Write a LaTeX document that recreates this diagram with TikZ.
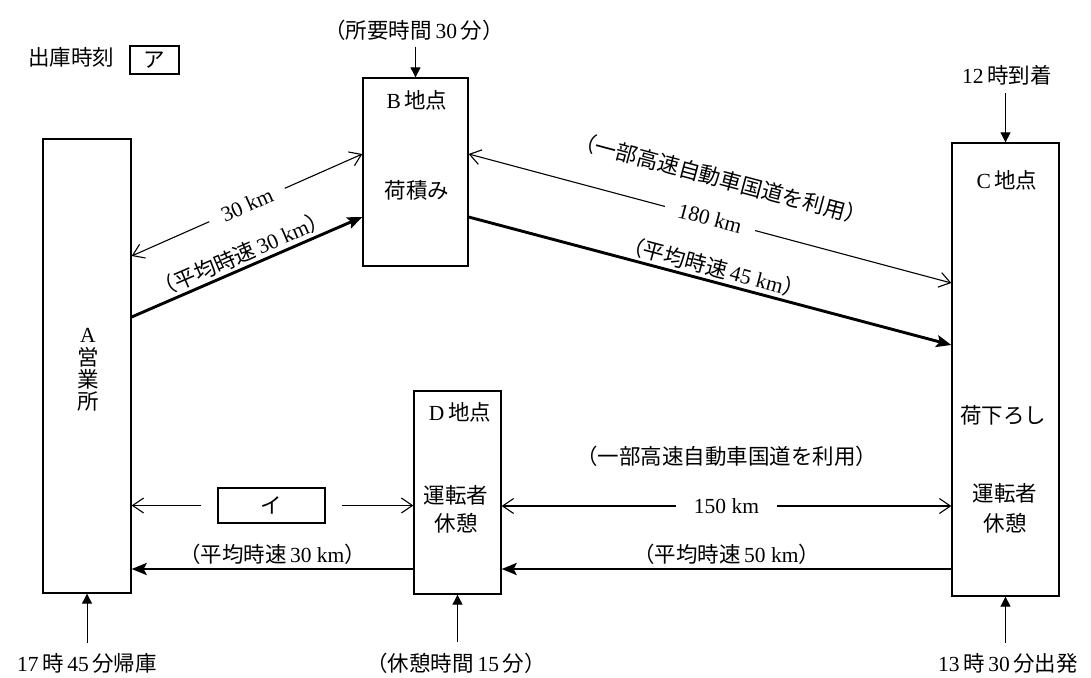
\documentclass[tikz,border=0pt]{standalone}
\usepackage{fontspec}
\setmainfont{Liberation Serif}
\newfontfamily\jp{Noto Sans CJK JP}
\usetikzlibrary{arrows.meta,calc}
\begin{document}
\begin{tikzpicture}[x=1pt,y=-1pt,
  font=\fontsize{21.5}{24}\selectfont,
  box/.style={draw,line width=1.3pt,inner sep=0pt},
  thinline/.style={line width=1.1pt,-{Straight Barb[length=11pt,width=15pt]}},
  thinboth/.style={line width=1.1pt,{Straight Barb[length=11pt,width=15pt]}-{Straight Barb[length=11pt,width=15pt]}},
  thickline/.style={line width=2.9pt,-{Stealth[length=15pt,width=12pt,inset=3pt]}},
  timearrow/.style={line width=0.9pt,-{Triangle[length=10pt,width=10pt]}},
  gaplabel/.style={fill=white,inner xsep=14pt,inner ysep=1pt},
  lab/.style={inner sep=2.5pt}
]
\fill[white] (0,0) rectangle (1091,677);
\useasboundingbox (0,0) rectangle (1091,677);

% boxes
\node[box,minimum width=88pt,minimum height=454pt] (A) at (87,366) {};
\node[box,minimum width=105pt,minimum height=188pt] (B) at (415.5,172) {};
\node[box,minimum width=107pt,minimum height=453pt] (C) at (1005.5,369.5) {};
\node[box,minimum width=87pt,minimum height=203pt] (D) at (457.5,492.5) {};

% box texts
\node[align=center,font=\fontsize{21.5}{22.3}\selectfont] (Alab) at (88,370) {A\\{\jp 営}\\{\jp 業}\\{\jp 所}};
\node (Blab) at (417,100) {B\,{\jp 地点}};
\node (Bwork) at (417,190) {\jp 荷積み};
\node (Clab) at (1007,180) {C\,{\jp 地点}};
\node (Cwork) at (1003,415) {\jp 荷下ろし};
\node[align=center,font=\fontsize{21.5}{30}\selectfont] (Crest) at (1005,508) {{\jp 運転者}\\{\jp 休憩}};
\node (Dlab) at (460,412) {D\,{\jp 地点}};
\node[align=center,font=\fontsize{21.5}{28}\selectfont] (Drest) at (456,509) {{\jp 運転者}\\{\jp 休憩}};

% top-left departure
\node (K) at (71,57) {\jp 出庫時刻};
\node[box,minimum width=49pt,minimum height=28pt] (Kbox) at (154.5,60) {\jp ア};

% time labels
\node (Bt) at (414,30) {{\jp （所要時間}\,30\,{\jp 分）}};
\node (Ct) at (1007,75) {12\,{\jp 時到着}};
\node (Ab) at (87,663) {17\,{\jp 時}\,45\,{\jp 分帰庫}};
\node (Db) at (456,663) {{\jp （休憩時間}\,15\,{\jp 分）}};
\node (Cb) at (1008,663) {13\,{\jp 時}\,30\,{\jp 分出発}};

\draw[timearrow,shorten <=3pt] (B.north |- Bt.south) -- (B.north);
\draw[timearrow,shorten <=5pt] (C.north |- Ct.south) -- (C.north);
\draw[timearrow,shorten <=7pt] (A.south |- Ab.north) -- (A.south);
\draw[timearrow,shorten <=7pt] (D.south |- Db.north) -- (D.south);
\draw[timearrow,shorten <=7pt] (C.south |- Cb.north) -- (C.south);

% A - B
\draw[thinboth] (A.east |- 0,256) -- node[gaplabel,sloped] (d30) {30 km} (B.west |- 0,154);
\draw[thickline] (A.east |- 0,317) -- node[lab,sloped,above] (v30) {{\jp （平均時速}\,30 km{\jp ）}} (B.west |- 0,217);

% B - C
\draw[thinboth] (B.east |- 0,154) -- node[gaplabel,sloped] (d180) {180 km}
  node[lab,sloped,above=28pt] (hw1) {\jp （一部高速自動車国道を利用）} (C.west |- 0,283);
\draw[thickline] (B.east |- 0,217) -- node[lab,sloped,above] (v45) {{\jp （平均時速}\,45 km{\jp ）}} (C.west |- 0,345);

% C - D
\draw[thinboth] (D.east |- 0,506) -- node[gaplabel,inner xsep=18pt] (d150) {150 km}
  node[lab,above=36pt] (hw2) {\jp （一部高速自動車国道を利用）} (C.west |- 0,506);
\draw[thickline] (C.west |- 0,569) -- node[lab,above] (v50) {{\jp （平均時速}\,50 km{\jp ）}} (D.east |- 0,569);

% D - A
\node[box,minimum width=107pt,minimum height=35pt] (I) at (271.5,505.5) {\jp イ};
\draw[thinline] ([xshift=-16pt]I.west) -- (A.east |- I.west);
\draw[thinline] ([xshift=16pt]I.east) -- (D.west |- I.east);
\draw[thickline] (D.west |- 0,569) -- node[lab,above] (v30b) {{\jp （平均時速}\,30 km{\jp ）}} (A.east |- 0,569);
\end{tikzpicture}
\end{document}
